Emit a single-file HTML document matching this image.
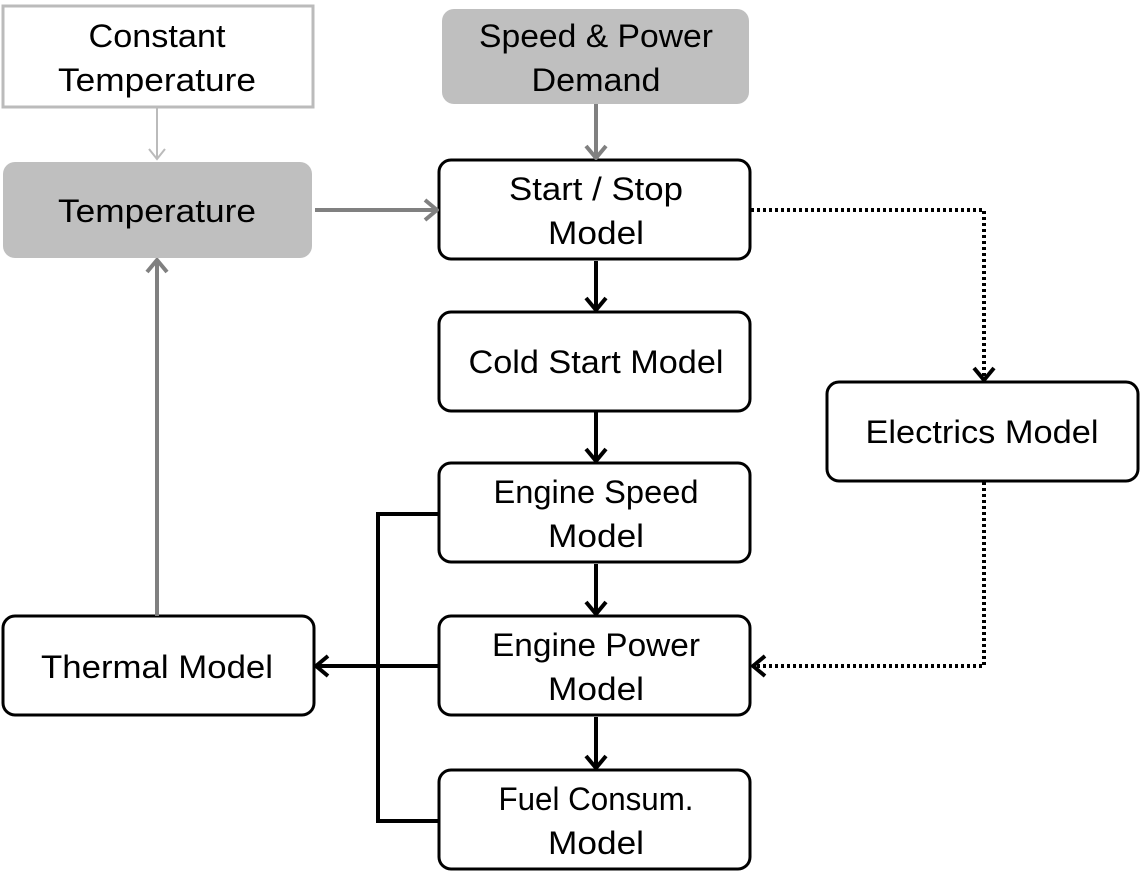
<!DOCTYPE html>
<html><head><style>
body{margin:0;width:1141px;height:888px;background:#fff;overflow:hidden}
svg text{font-family:"Liberation Sans",sans-serif;font-size:32px;fill:#000;text-anchor:middle}
</style></head><body>
<svg width="1141" height="888" viewBox="0 0 1141 888">
<defs>
<marker id="ab" markerWidth="16" markerHeight="24" refX="14" refY="12" orient="auto" markerUnits="userSpaceOnUse"><path d="M2,2 L14,12 L2,22" fill="none" stroke="#000" stroke-width="4"/></marker>
<marker id="ag" markerWidth="16" markerHeight="24" refX="14" refY="12" orient="auto" markerUnits="userSpaceOnUse"><path d="M2,2 L14,12 L2,22" fill="none" stroke="#808080" stroke-width="4"/></marker>
<marker id="al" markerWidth="14" markerHeight="20" refX="12" refY="10" orient="auto" markerUnits="userSpaceOnUse"><path d="M2,2 L12,10 L2,18" fill="none" stroke="#bbb" stroke-width="2"/></marker>
</defs>
<rect x="3" y="6" width="310" height="101" fill="#fff" stroke="#bbb" stroke-width="3"/>
<rect x="442" y="9" width="307" height="95" rx="12" fill="#bfbfbf"/>
<rect x="3" y="162" width="309" height="96" rx="12" fill="#bfbfbf"/>
<g fill="#fff" stroke="#000" stroke-width="3">
<rect x="439" y="160" width="311" height="99" rx="12"/>
<rect x="439" y="312" width="311" height="99" rx="12"/>
<rect x="439" y="463" width="311" height="99" rx="12"/>
<rect x="439" y="616" width="311" height="99" rx="12"/>
<rect x="439" y="770" width="311" height="99" rx="12"/>
<rect x="3" y="616" width="311" height="99" rx="12"/>
<rect x="827" y="382" width="311" height="99" rx="12"/>
</g>
<line x1="157" y1="108" x2="157" y2="159" stroke="#bbb" stroke-width="2" marker-end="url(#al)"/>
<line x1="596" y1="104" x2="596" y2="158" stroke="#808080" stroke-width="4" marker-end="url(#ag)"/>
<line x1="315" y1="210" x2="437" y2="210" stroke="#808080" stroke-width="4" marker-end="url(#ag)"/>
<line x1="157" y1="616" x2="157" y2="260" stroke="#808080" stroke-width="4" marker-end="url(#ag)"/>
<g stroke="#000" stroke-width="4" fill="none">
<line x1="596" y1="261" x2="596" y2="310" marker-end="url(#ab)"/>
<line x1="596" y1="412" x2="596" y2="461" marker-end="url(#ab)"/>
<line x1="596" y1="564" x2="596" y2="614" marker-end="url(#ab)"/>
<line x1="596" y1="717" x2="596" y2="768" marker-end="url(#ab)"/>
<polyline points="438,514 378,514 378,821 438,821"/>
<line x1="438" y1="666" x2="316" y2="666" marker-end="url(#ab)"/>
<polyline points="751,210 984,210 984,380" stroke-dasharray="3,3" marker-end="url(#ab)"/>
<polyline points="984,482 984,666 753,666" stroke-dasharray="3,3" marker-end="url(#ab)"/>
</g>
<text x="157" y="47" textLength="137" lengthAdjust="spacingAndGlyphs">Constant</text><text x="157" y="91" textLength="198" lengthAdjust="spacingAndGlyphs">Temperature</text>
<text x="596" y="47" textLength="234" lengthAdjust="spacingAndGlyphs">Speed &amp; Power</text><text x="596" y="91" textLength="129" lengthAdjust="spacingAndGlyphs">Demand</text>
<text x="157" y="222" textLength="198" lengthAdjust="spacingAndGlyphs">Temperature</text>
<text x="596" y="200" textLength="174" lengthAdjust="spacingAndGlyphs">Start / Stop</text><text x="596" y="244" textLength="96" lengthAdjust="spacingAndGlyphs">Model</text>
<text x="596" y="373" textLength="255" lengthAdjust="spacingAndGlyphs">Cold Start Model</text>
<text x="596" y="503" textLength="205" lengthAdjust="spacingAndGlyphs">Engine Speed</text><text x="596" y="547" textLength="96" lengthAdjust="spacingAndGlyphs">Model</text>
<text x="596" y="656" textLength="208" lengthAdjust="spacingAndGlyphs">Engine Power</text><text x="596" y="700" textLength="96" lengthAdjust="spacingAndGlyphs">Model</text>
<text x="596" y="810" textLength="195" lengthAdjust="spacingAndGlyphs">Fuel Consum.</text><text x="596" y="854" textLength="96" lengthAdjust="spacingAndGlyphs">Model</text>
<text x="157" y="678" textLength="232" lengthAdjust="spacingAndGlyphs">Thermal Model</text>
<text x="982" y="443" textLength="233" lengthAdjust="spacingAndGlyphs">Electrics Model</text>
</svg>
</body></html>
